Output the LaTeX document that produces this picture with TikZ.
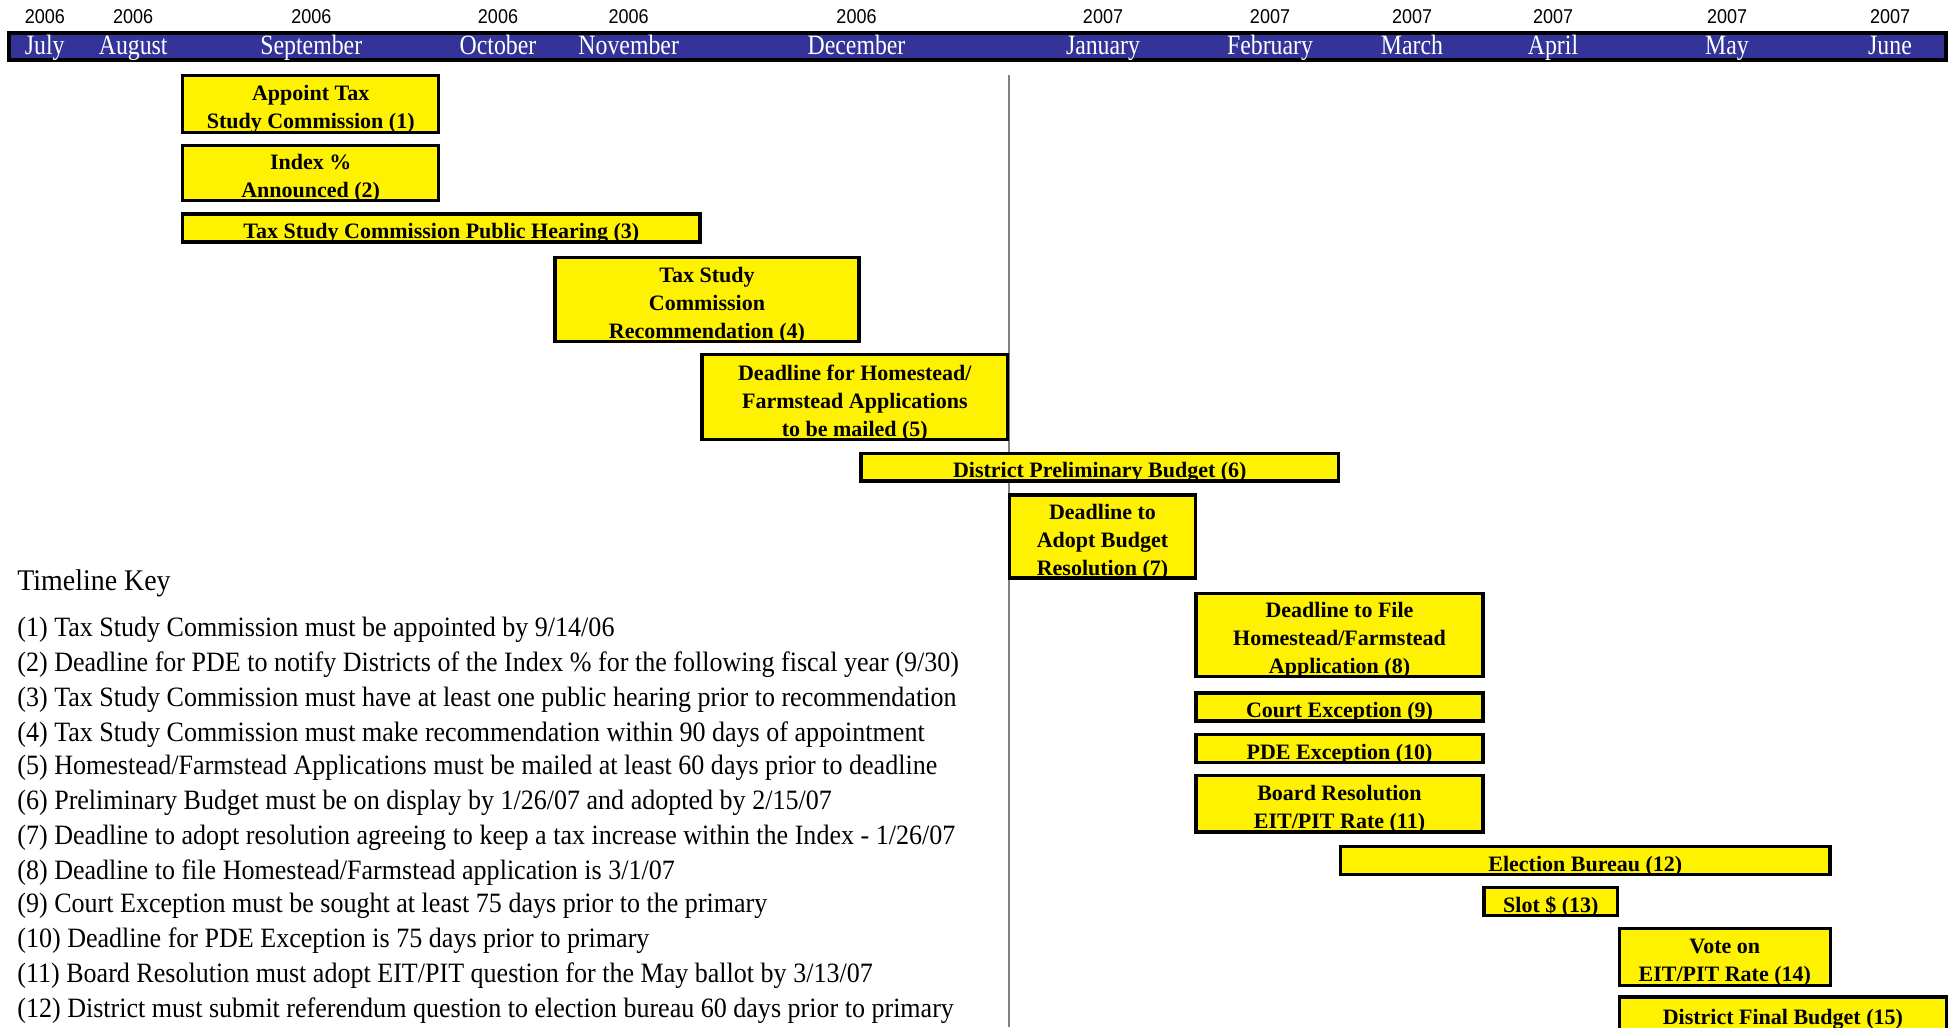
\documentclass[tikz,border=0pt]{standalone}
\usepackage{fontspec}
\setmainfont{Liberation Serif}
\newfontfamily\keyfont{Liberation Serif}[FakeStretch=0.93]
\newfontfamily\monfont{Liberation Serif}[FakeStretch=0.85]
\newfontfamily\yearfont{Liberation Sans}[FakeStretch=0.9]
\usetikzlibrary{positioning}
\definecolor{barblue}{HTML}{333399}
\tikzset{
    evt/.style = {draw, line width=1.6pt, fill=yellow, inner sep=0pt},
    evtxt/.style = {align=center, inner sep=0pt, yshift=-2.8pt, font=\fontsize{11}{14}\selectfont\bfseries},
    mon/.style = {anchor=base, text=white, inner sep=0pt, font=\monfont\fontsize{14}{16}\selectfont},
    yr/.style = {anchor=base, inner sep=0pt, font=\yearfont\fontsize{10}{12}\selectfont},
    key/.style = {anchor=west, inner sep=0pt, font=\keyfont\fontsize{14}{16}\selectfont}
}

\begin{document}
\begin{tikzpicture}[x=0.5pt, y=-0.5pt]
\useasboundingbox (0,0) rectangle (1952,1027);

% Today line
\coordinate (NOWtop) at (1008.5,75);
\coordinate (NOWbot) at (1008.5,1027);
\draw[gray, line width=1pt] (NOWtop) -- (NOWbot);

% Month bar
\node[draw, line width=2pt, fill=barblue, minimum width=968.8pt, minimum height=13.5pt, inner sep=0pt] (BAR) at (977.3,46.5) {};

% Years
\node[yr] (yJUL) at (44.8,24) {2006};
\node[yr] (yAUG) at (133.2,24) {2006};
\node[yr] (ySEP) at (311.3,24) {2006};
\node[yr] (yOCT) at (498,24) {2006};
\node[yr] (yNOV) at (628.7,24) {2006};
\node[yr] (yDEC) at (856.5,24) {2006};
\node[yr] (yJAN) at (1103,24) {2007};
\node[yr] (yFEB) at (1270,24) {2007};
\node[yr] (yMAR) at (1412,24) {2007};
\node[yr] (yAPR) at (1553,24) {2007};
\node[yr] (yMAY) at (1727,24) {2007};
\node[yr] (yJUN) at (1890,24) {2007};

% Months
\node[mon] (JUL) at (44.8,55) {July};
\node[mon] (AUG) at (133.2,55) {August};
\node[mon] (SEP) at (311.3,55) {September};
\node[mon] (OCT) at (498,55) {October};
\node[mon] (NOV) at (628.7,55) {November};
\node[mon] (DEC) at (856.5,55) {December};
\node[mon] (JAN) at (1103,55) {January};
\node[mon] (FEB) at (1270,55) {February};
\node[mon] (MAR) at (1412,55) {March};
\node[mon] (APR) at (1553,55) {April};
\node[mon] (MAY) at (1727,55) {May};
\node[mon] (JUN) at (1890,55) {June};

% 2006 events
\node[evt, minimum width=128pt, minimum height=28.3pt, label={[evtxt]center:{Appoint Tax\\Study Commission (1)}}] (APPT) at (310.7,104) {};
\node[evt, minimum width=128pt, minimum height=27.7pt, label={[evtxt]center:{Index \%\\Announced (2)}}] (INDEX) at (310.7,173) {};
\node[evt, minimum width=258.6pt, minimum height=13.9pt, label={[evtxt]center:{Tax Study Commission Public Hearing (3)}}] (HEAR) at (441.4,228) {};
\node[evt, minimum width=152pt, minimum height=42pt, label={[evtxt]center:{Tax Study\\Commission\\Recommendation (4)}}] (REC) at (707,299.5) {};
\node[evt, minimum width=152.8pt, minimum height=42.6pt, label={[evtxt]center:{Deadline for Homestead/\\Farmstead Applications\\to be mailed (5)}}] (MAIL) at (854.8,397) {};
\node[evt, minimum width=238.8pt, minimum height=13.9pt, label={[evtxt]center:{District Preliminary Budget (6)}}] (PRELIM) at (1099.8,467) {};

% 2007 events
\node[evt, minimum width=93pt, minimum height=41.5pt, label={[evtxt]center:{Deadline to\\Adopt Budget\\Resolution (7)}}] (ADOPT) at (1102.5,536.5) {};
\node[evt, minimum width=143.5pt, minimum height=41.4pt, label={[evtxt]center:{Deadline to File\\Homestead/Farmstead\\Application (8)}}] (FILE) at (1339.5,635) {};
\node[evt, minimum width=143.5pt, minimum height=14pt, label={[evtxt]center:{Court Exception (9)}}] (COURT) at (1339.5,707) {};
\node[evt, minimum width=143.5pt, minimum height=14pt, label={[evtxt]center:{PDE Exception (10)}}] (PDE) at (1339.5,748.3) {};
\node[evt, minimum width=143.5pt, minimum height=28.3pt, label={[evtxt]center:{Board Resolution\\EIT/PIT Rate (11)}}] (BOARD) at (1339.5,803.7) {};
\node[evt, minimum width=244.7pt, minimum height=14pt, label={[evtxt]center:{Election Bureau (12)}}] (ELEC) at (1585.3,860.3) {};
\node[evt, minimum width=66.8pt, minimum height=14pt, label={[evtxt]center:{Slot \$ (13)}}] (SLOT) at (1550.8,901.4) {};
\node[evt, minimum width=105.3pt, minimum height=28.3pt, label={[evtxt]center:{Vote on\\EIT/PIT Rate (14)}}] (VOTE) at (1724.8,956.8) {};
\node[evt, minimum width=163.3pt, minimum height=17pt, label={[evtxt]center:{District Final Budget (15)}}] (FINAL) at (1782.8,1014) {};

% Timeline key
\node[key, font=\keyfont\fontsize{15}{18}\selectfont] (KEY) at (17,583) {Timeline Key};
\node[key] (K1) at (17,630) {(1) Tax Study Commission must be appointed by 9/14/06};
\node[key] (K2) at (17,665) {(2) Deadline for PDE to notify Districts of the Index \% for the following fiscal year (9/30)};
\node[key] (K3) at (17,700) {(3) Tax Study Commission must have at least one public hearing prior to recommendation};
\node[key] (K4) at (17,734.5) {(4) Tax Study Commission must make recommendation within 90 days of appointment};
\node[key] (K5) at (17,768) {(5) Homestead/Farmstead Applications must be mailed at least 60 days prior to deadline};
\node[key] (K6) at (17,803) {(6) Preliminary Budget must be on display by 1/26/07 and adopted by 2/15/07};
\node[key] (K7) at (17,838) {(7) Deadline to adopt resolution agreeing to keep a tax increase within the Index - 1/26/07};
\node[key] (K8) at (17,873) {(8) Deadline to file Homestead/Farmstead application is 3/1/07};
\node[key] (K9) at (17,906) {(9) Court Exception must be sought at least 75 days prior to the primary};
\node[key] (K10) at (17,941) {(10) Deadline for PDE Exception is 75 days prior to primary};
\node[key] (K11) at (17,976) {(11) Board Resolution must adopt EIT/PIT question for the May ballot by 3/13/07};
\node[key] (K12) at (17,1011) {(12) District must submit referendum question to election bureau 60 days prior to primary};
\end{tikzpicture}
\end{document}
